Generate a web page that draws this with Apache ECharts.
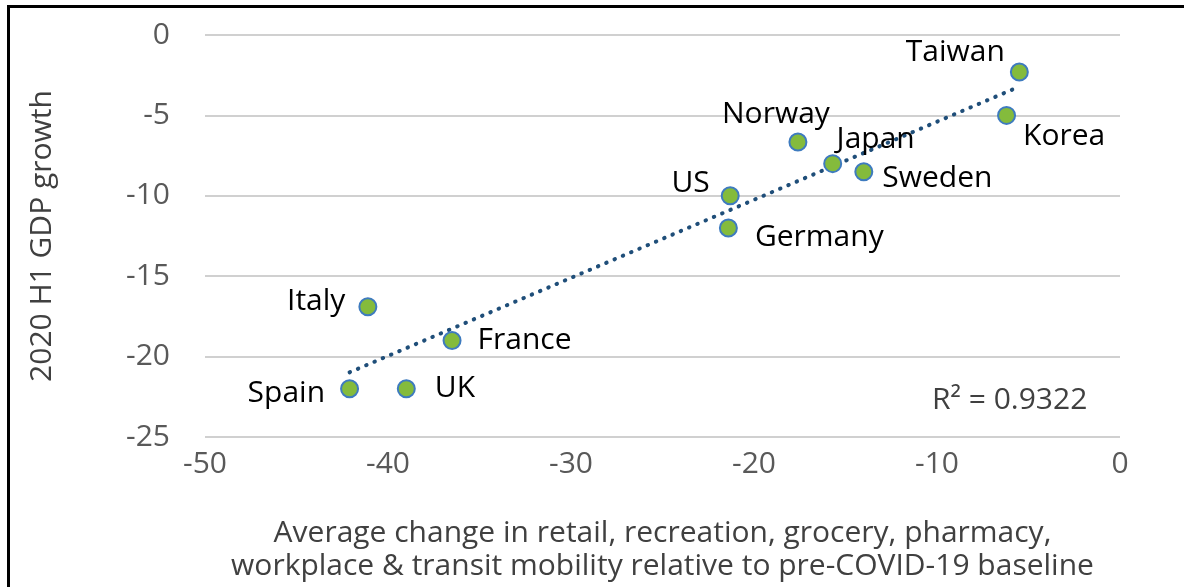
<!DOCTYPE html>
<html lang="en">
<head>
<meta charset="UTF-8">
<title>GDP growth vs mobility</title>
<script src="https://cdn.jsdelivr.net/npm/echarts@6/dist/echarts.min.js"></script>
<style>
body { margin: 0; padding: 0; background: #fff; }
#frame { position: absolute; left: 7px; top: 5px; width: 1300px; height: 700px; border-top: 3px solid #000; border-left: 3px solid #000; }
#main { position: absolute; left: 0; top: 0; width: 1184px; height: 587px; }
</style>
</head>
<body>
<div id="frame"></div>
<div id="main"></div>
<script>
// data
var countries = ['Taiwan', 'Korea', 'Norway', 'Japan', 'Sweden', 'US', 'Germany', 'Italy', 'France', 'Spain', 'UK'];
var mobility = [-5.5, -6.2, -17.6, -15.7, -14.0, -21.3, -21.4, -41.1, -36.5, -42.1, -39.0];
var gdp = [-2.3, -5.0, -6.65, -8.0, -8.5, -10.0, -12.0, -16.9, -19.0, -22.0, -22.0];
var xRange = [-50, 0];
var yRange = [-25, 0];
var rSquared = '0.9322';

// where each country label sits relative to its point: [position, dx, dy]
var labelPlace = {
  Taiwan: ['left', 0, -20],
  Korea: ['right', 2, 21],
  Norway: ['top', -22, 2],
  Japan: ['top', 43, 5],
  Sweden: ['right', 4, 7],
  US: ['left', -6, -12],
  Germany: ['right', 12, 9],
  Italy: ['left', -8, -5],
  France: ['right', 11, 0],
  Spain: ['left', -10, 5],
  UK: ['right', 14, 0]
};

var font = 'Open Sans';

// linear trend (least squares) over the points
var n = mobility.length, sx = 0, sy = 0, sxx = 0, sxy = 0;
for (var i = 0; i < n; i++) {
  sx += mobility[i]; sy += gdp[i];
  sxx += mobility[i] * mobility[i]; sxy += mobility[i] * gdp[i];
}
var slope = (n * sxy - sx * sy) / (n * sxx - sx * sx);
var icpt = (sy - slope * sx) / n;
var x0 = Math.min.apply(null, mobility), x1 = Math.max.apply(null, mobility);
var trend = [[x0, icpt + slope * x0], [x1, icpt + slope * x1]];

var points = countries.map(function (c, i) {
  var p = labelPlace[c];
  return {
    name: c,
    value: [mobility[i], gdp[i]],
    label: { position: p[0], offset: [p[1], p[2]] }
  };
});

var chart = echarts.init(document.getElementById('main'));
chart.setOption({
  animation: false,
  grid: { left: 205, right: 64, top: 35, bottom: 150, outerBoundsMode: 'none' },
  xAxis: {
    type: 'value', min: xRange[0], max: xRange[1], interval: 10,
    axisLine: { show: false }, axisTick: { show: false }, splitLine: { show: false },
    axisLabel: { color: '#595959', fontFamily: font, fontSize: 30, margin: 12 },
    name: 'Average change in retail, recreation, grocery, pharmacy,\nworkplace & transit mobility relative to pre-COVID-19 baseline',
    nameLocation: 'middle', nameGap: 80,
    nameTextStyle: { color: '#404040', fontFamily: font, fontSize: 30, lineHeight: 33 }
  },
  yAxis: {
    type: 'value', min: yRange[0], max: yRange[1], interval: 5,
    axisLine: { show: false }, axisTick: { show: false },
    splitLine: { lineStyle: { color: '#D0D0D0', width: 2 } },
    axisLabel: { color: '#595959', fontFamily: font, fontSize: 30, margin: 35 },
    name: '2020 H1 GDP growth', nameLocation: 'middle', nameGap: 148,
    nameTextStyle: { color: '#404040', fontFamily: font, fontSize: 30 }
  },
  series: [{
    type: 'line',
    data: trend,
    symbol: 'none',
    silent: true,
    lineStyle: { color: '#1F4E79', width: 4, type: [0.5, 8.5], cap: 'round' },
    z: 1
  }, {
    type: 'scatter',
    data: points,
    symbolSize: 17,
    itemStyle: { color: '#84BB3C', borderColor: '#3E7BBF', borderWidth: 2, opacity: 1 },
    label: {
      show: true, formatter: '{b}', color: '#000', fontFamily: font, fontSize: 30
    },
    z: 2
  }],
  graphic: [{
    type: 'text', left: 932, top: 385,
    style: { text: 'R² = ' + rSquared, fill: '#404040', font: '30px "Open Sans"' }
  }]
});
</script>
</body>
</html>
